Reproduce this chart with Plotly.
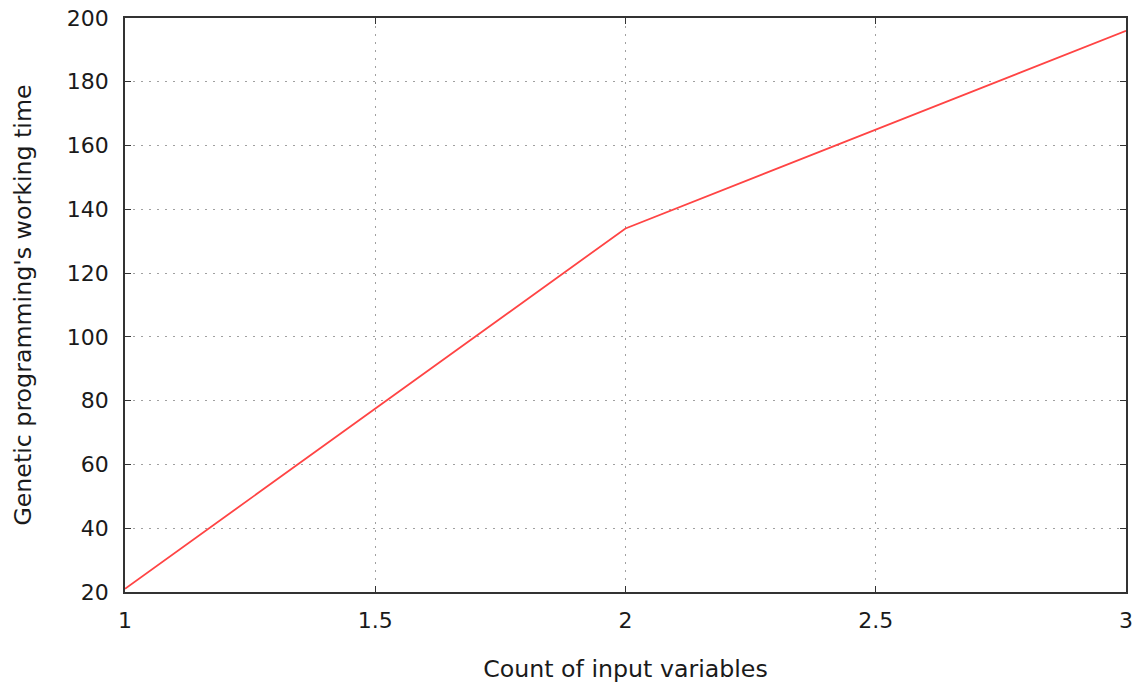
import plotly.graph_objects as go

x_vals = [1, 2, 3]
y_vals = [21, 134, 196]
x_ticks = [1, 1.5, 2, 2.5, 3]
x_tick_labels = ["1", "1.5", "2", "2.5", "3"]
y_ticks = [20, 40, 60, 80, 100, 120, 140, 160, 180, 200]

FONT = dict(family="DejaVu Sans", size=22, color="#1a1a1a")
TFONT = dict(family="DejaVu Sans", size=23.7, color="#1a1a1a")

fig = go.Figure()
fig.add_trace(go.Scatter(x=x_vals, y=y_vals, mode="lines",
                         line=dict(color="#ff4444", width=1.8), showlegend=False))

axis_common = dict(showline=True, linecolor="#333333", linewidth=1.5, mirror="allticks",
                   ticks="inside", ticklen=6, tickcolor="#333333", tickwidth=1,
                   showgrid=True, gridcolor="#a0a0a0", griddash="2px,6px", gridwidth=1,
                   zeroline=False, tickfont=FONT, automargin=False)

fig.update_xaxes(range=[1, 3], tickvals=x_ticks, ticktext=x_tick_labels,
                 ticklabelstandoff=8,
                 title=dict(text="Count of input variables", font=TFONT, standoff=28),
                 **axis_common)
fig.update_yaxes(range=[20, 200], tickvals=y_ticks,
                 ticklabelstandoff=10,
                 title=dict(text="Genetic programming's working time", font=TFONT, standoff=29),
                 **axis_common)

fig.update_layout(width=1141, height=687, plot_bgcolor="white", paper_bgcolor="white",
                  margin=dict(l=125, r=15, t=18, b=95))
fig.write_html("out.html", config={"displayModeBar": False},
               post_script="document.body.style.margin='0';document.body.style.overflow='hidden';")
